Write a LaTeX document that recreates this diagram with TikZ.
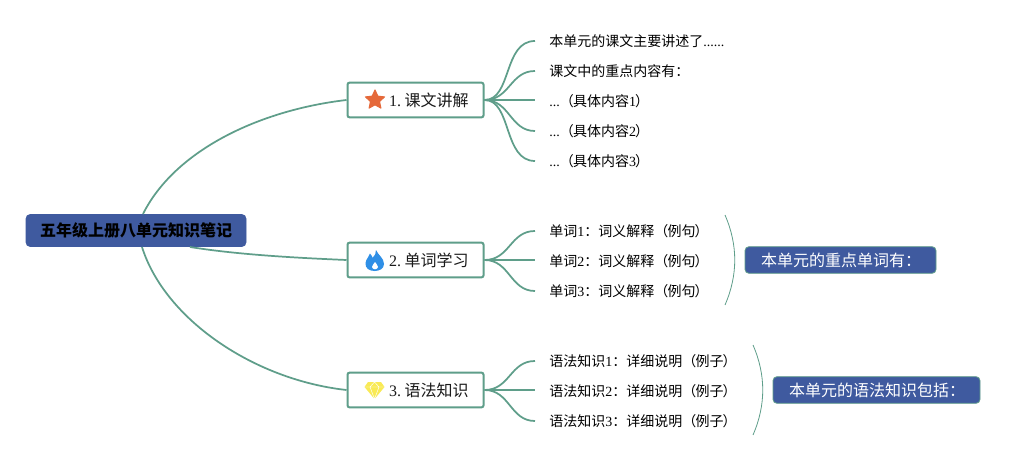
\documentclass[tikz,border=0pt]{standalone}
\usepackage{fontspec}
\setmainfont{Liberation Serif}
\newfontfamily\cjk{Noto Sans CJK SC}
\usetikzlibrary{shapes.geometric}
\definecolor{lineg}{HTML}{5F9E8A}
\definecolor{rootb}{HTML}{3F5A9F}
\definecolor{inkc}{HTML}{1A1A1A}
\definecolor{staro}{HTML}{E5693A}
\definecolor{flameb}{HTML}{2F8FE6}
\definecolor{gemy}{HTML}{F9EA55}
\newcommand{\lpar}{{\cjk（}\kern-0.5pt}
\newcommand{\rpar}{\kern-0.8pt{\cjk ）}}
\tikzset{
  x=0.75pt,y=-0.75pt,
  rootbox/.style={fill=rootb,draw=rootb,rounded corners=3pt,minimum width=165pt,minimum height=24pt,inner sep=0pt,font=\fontsize{12}{14}\bfseries\cjk,text=black},
  branchbox/.style={draw=lineg,line width=1.5pt,fill=white,rounded corners=1.5pt,minimum width=102pt,minimum height=26pt,inner sep=0pt,font=\fontsize{12}{14}\selectfont,text=inkc},
  leaf/.style={anchor=west,inner xsep=10.5pt,inner ysep=0pt,font=\fontsize{10.5}{13}\selectfont,text=black},
  sumbox/.style={fill=rootb,draw=lineg,line width=0.6pt,rounded corners=3pt,minimum height=20pt,inner xsep=12pt,inner ysep=0pt,align=left,font=\fontsize{12}{15}\cjk,text=white},
  mainline/.style={draw=lineg,line width=1.3pt},
  twig/.style={draw=lineg,line width=1.3pt},
  brace/.style={draw=lineg,line width=0.6pt},
  icon/.style={inner sep=0pt,outer sep=0pt}
}
\begin{document}
\begin{tikzpicture}
\useasboundingbox (0,0) rectangle (1025,460);
\fill[white] (0,0) rectangle (1025,460);

\node[rootbox] (root) at (136,230.5) {五年级上册八单元知识笔记};
\coordinate (rootA) at (143,214);
\coordinate (rootB) at (190,247);
\coordinate (rootC) at (142,247);

\node[branchbox] (b1) at (415.5,100) {\hspace*{20pt}1.\kern2.5pt{\cjk 课文讲解}};
\node[branchbox] (b2) at (415.5,260) {\hspace*{20pt}2.\kern2.5pt{\cjk 单词学习}};
\node[branchbox] (b3) at (415.5,390) {\hspace*{20pt}3.\kern2.5pt{\cjk 语法知识}};

\draw[mainline] (rootA) .. controls (175,150) and (260,110) .. (b1.west);
\draw[mainline] (rootB) .. controls (240,255) and (300,258) .. (b2.west);
\draw[mainline] (rootC) .. controls (165,320) and (255,380) .. (b3.west);

\node[leaf] (l11) at (535,41) {{\cjk 本单元的课文主要讲述了}......};
\node[leaf] (l12) at (535,71) {{\cjk 课文中的重点内容有：}};
\node[leaf] (l13) at (535,101) {...\lpar{\cjk 具体内容}1\rpar};
\node[leaf] (l14) at (535,131) {...\lpar{\cjk 具体内容}2\rpar};
\node[leaf] (l15) at (535,161) {...\lpar{\cjk 具体内容}3\rpar};
\node[leaf] (l21) at (535,231) {{\cjk 单词}1{\cjk：词义解释}\lpar{\cjk 例句}\rpar};
\node[leaf] (l22) at (535,261) {{\cjk 单词}2{\cjk：词义解释}\lpar{\cjk 例句}\rpar};
\node[leaf] (l23) at (535,291) {{\cjk 单词}3{\cjk：词义解释}\lpar{\cjk 例句}\rpar};
\node[leaf] (l31) at (535,361) {{\cjk 语法知识}1{\cjk：详细说明}\lpar{\cjk 例子}\rpar};
\node[leaf] (l32) at (535,391) {{\cjk 语法知识}2{\cjk：详细说明}\lpar{\cjk 例子}\rpar};
\node[leaf] (l33) at (535,421) {{\cjk 语法知识}3{\cjk：详细说明}\lpar{\cjk 例子}\rpar};

\draw[twig] (b1.east) .. controls (512,100) and (503,41) .. (l11.west);
\draw[twig] (b1.east) .. controls (510,100) and (510,71) .. (l12.west);
\draw[twig] (b1.east) -- (l13.west |- b1.east);
\draw[twig] (b1.east) .. controls (510,100) and (510,131) .. (l14.west);
\draw[twig] (b1.east) .. controls (512,100) and (503,161) .. (l15.west);
\draw[twig] (b2.east) .. controls (510,260) and (510,231) .. (l21.west);
\draw[twig] (b2.east) -- (l22.west |- b2.east);
\draw[twig] (b2.east) .. controls (510,260) and (510,291) .. (l23.west);
\draw[twig] (b3.east) .. controls (510,390) and (510,361) .. (l31.west);
\draw[twig] (b3.east) -- (l32.west |- b3.east);
\draw[twig] (b3.east) .. controls (510,390) and (510,421) .. (l33.west);

\node[sumbox,text width=119.25pt] (s1) at (840.5,260) {本单元的重点单词有：};
\node[sumbox,text width=131.25pt] (s2) at (876.5,390) {本单元的语法知识包括：};

\coordinate (br1a) at (725,215);
\coordinate (br1b) at (725,305);
\coordinate (br2a) at (753,345);
\coordinate (br2b) at (753,435);
\draw[brace] (br1a) .. controls (738,245) and (738,275) .. (br1b);
\draw[brace] (br2a) .. controls (766,375) and (766,405) .. (br2b);

% icons
\node[icon,star,star points=5,star point ratio=2.1,fill=staro,draw=staro,line width=0.8pt,line join=round,minimum size=15pt] (ic1) at (375,100) {};
\fill[flameb] (376,250) .. controls (378,255) and (384,258) .. (384,264)
  .. controls (384,269) and (379,271) .. (374.5,271)
  .. controls (369,271) and (365,268) .. (365.5,263)
  .. controls (366,259) and (369,257) .. (370,253.5)
  .. controls (372,255) and (372,257) .. (372.5,258)
  .. controls (375,256) and (376,253) .. (376,250) -- cycle;
\fill[white] (375,262) .. controls (376,264) and (378,265) .. (378,267)
  .. controls (377.5,270) and (372.5,270) .. (372,267)
  .. controls (372,265) and (374,264) .. (375,262) -- cycle;
\fill[gemy] (368,382) -- (381,382) -- (384.5,387) -- (374.5,399) -- (364.5,387) -- cycle;
\draw[white,line width=0.35pt] (364.5,387) -- (384.5,387) (370,387) -- (374.5,399) -- (379,387) (370,387) -- (374.5,382) -- (379,387);
\end{tikzpicture}
\end{document}
